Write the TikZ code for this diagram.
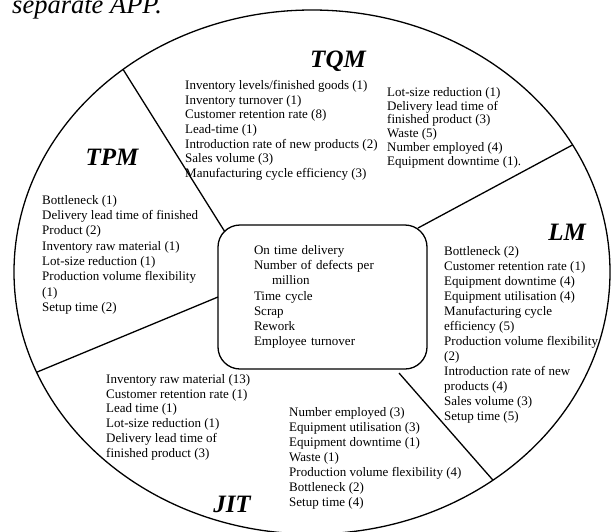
\documentclass[tikz,border=0pt]{standalone}
\usepackage{fontspec}
\setmainfont{Liberation Serif}
\usetikzlibrary{
    shapes.geometric,
    calc
}
\tikzstyle{metric} = [
    anchor=north west,
    align=left,
    inner sep=0pt,
    font=\fontsize{13}{14.8}\selectfont
]
\tikzstyle{approach} = [
    anchor=base,
    inner sep=0pt,
    font=\fontsize{25}{30}\selectfont\bfseries\itshape
]
\tikzstyle{divider} = [
    draw=black,
    line width=1.3pt
]

\begin{document}
\begin{tikzpicture}[x=1pt, y=-1pt]
    \clip (0,0) rectangle (611,531);

    % heading cut by the top edge
    \node[anchor=base west, inner sep=0pt, font=\fontsize{26.5}{30}\selectfont\itshape] (caption) at (12,13) {separate APP.};

    % outer ellipse
    \node[ellipse, draw, line width=1.3pt, minimum width=596pt, minimum height=524pt,
        inner sep=0pt, outer sep=0pt] (outer) at (312,272) {};

    % shared measures in the middle
    \node[rectangle, draw, line width=1.3pt, rounded corners=22pt, minimum height=144pt,
        text width=137pt, inner xsep=36pt, inner ysep=0pt, outer sep=0pt, align=left,
        font=\fontsize{13}{15.2}\selectfont] (core) at (322.5,297) {
        On time delivery\\
        Number of defects per\\
        \hspace*{18pt}million\\
        Time cycle\\
        Scrap\\
        Rework\\
        Employee turnover
    };

    % Dividers
    \draw[divider] (outer.133) -- ($(core.north west)+(7,7)$);
    \draw[divider] (outer.26) -- ($(core.north east)+(-9,3)$);
    \draw[divider] (outer.200) -- (core.west);
    \draw[divider] (outer.311) -- ($(core.south east)+(-28,4)$);

    % TQM
    \node[approach] (tqm) at (338,67) {TQM};
    \node[metric, font=\fontsize{13}{14.7}\selectfont] (tqmleft) at (185,80) {
        Inventory levels/finished goods (1)\\
        Inventory turnover (1)\\
        Customer retention rate (8)\\
        Lead-time (1)\\
        Introduction rate of new products (2)\\
        Sales volume (3)\\
        Manufacturing cycle efficiency (3)
    };
    \node[metric, font=\fontsize{13}{13.8}\selectfont] (tqmright) at (387,87) {
        Lot-size reduction (1)\\
        Delivery lead time of\\
        finished product (3)\\
        Waste (5)\\
        Number employed (4)\\
        Equipment downtime (1).
    };

    % TPM
    \node[approach] (tpm) at (112,165) {TPM};
    \node[metric, font=\fontsize{13}{15.3}\selectfont] (tpmlist) at (42,195) {
        Bottleneck (1)\\
        Delivery lead time of finished\\
        Product (2)\\
        Inventory raw material (1)\\
        Lot-size reduction (1)\\
        Production volume flexibility\\
        (1)\\
        Setup time (2)
    };

    % LM
    \node[approach] (lm) at (567,240) {LM};
    \node[metric, font=\fontsize{13}{15}\selectfont] (lmlist) at (444,246) {
        Bottleneck (2)\\
        Customer retention rate (1)\\
        Equipment downtime (4)\\
        Equipment utilisation (4)\\
        Manufacturing cycle\\
        efficiency (5)\\
        Production volume flexibility\\
        (2)\\
        Introduction rate of new\\
        products (4)\\
        Sales volume (3)\\
        Setup time (5)
    };

    % JIT
    \node[approach] (jit) at (232,512) {JIT};
    \node[metric] (jitleft) at (106,374) {
        Inventory raw material (13)\\
        Customer retention rate (1)\\
        Lead time (1)\\
        Lot-size reduction (1)\\
        Delivery lead time of\\
        finished product (3)
    };
    \node[metric, font=\fontsize{13}{15}\selectfont] (jitright) at (289,407) {
        Number employed (3)\\
        Equipment utilisation (3)\\
        Equipment downtime (1)\\
        Waste (1)\\
        Production volume flexibility (4)\\
        Bottleneck (2)\\
        Setup time (4)
    };
\end{tikzpicture}
\end{document}
